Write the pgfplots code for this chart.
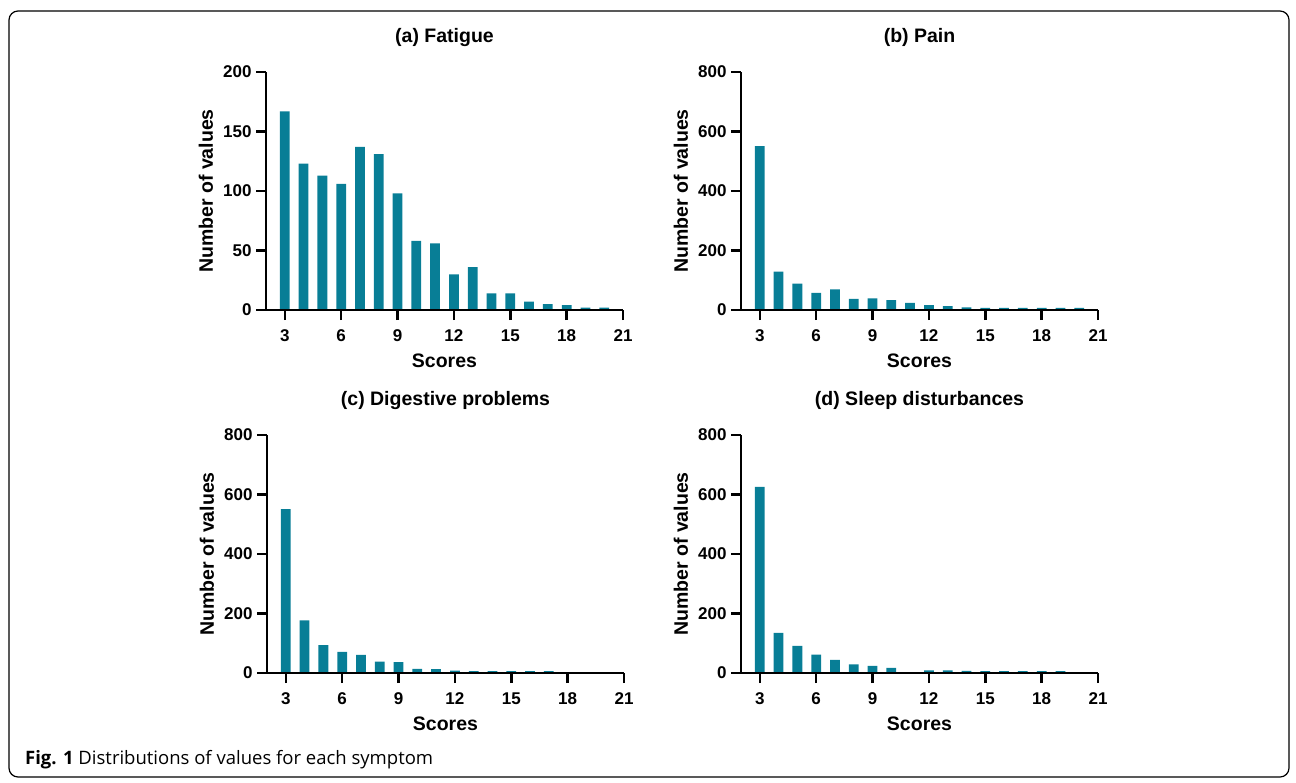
\documentclass[border=0pt]{standalone}
\usepackage{fontspec}
\setmainfont{Liberation Sans}
\newfontfamily\capfont{Open Sans}
\usepackage{pgfplots}
\pgfplotsset{compat=1.18}
\definecolor{barteal}{RGB}{8,126,150}
\pgfplotsset{
  panel/.style={
    scale only axis,
    width=357pt, height=238pt,
    anchor=south west,
    xmin=2, xmax=21, ymin=0,
    xtick={3,6,...,21},
    axis lines=left,
    axis line style={-, line width=2.5pt, black},
    every tick/.style={black, line width=2.5pt},
    major tick length=10pt,
    tick align=outside,
    minor tick num=0,
    axis on top=true,
    /pgf/number format/assume math mode=true,
    tick label style={font=\fontsize{17}{20}\selectfont\bfseries},
    xticklabel style={anchor=north, yshift=-6pt},
    yticklabel style={anchor=east, xshift=-1pt},
    xlabel={Scores},
    ylabel={Number of values},
    every axis x label/.style={at={(axis description cs:0.5,0)}, yshift=-51pt, anchor=center, font=\fontsize{19.5}{22}\selectfont\bfseries},
    every axis y label/.style={at={(axis description cs:0,0.5)}, xshift=-60pt, rotate=90, anchor=center, font=\fontsize{19.5}{22}\selectfont\bfseries},
    title style={font=\fontsize{19.5}{22}\selectfont\bfseries, at={(axis description cs:0.5,1)}, yshift=29pt, anchor=center},
    ybar, bar width=0.52,
    scaled y ticks=false,
  },
  bars/.style={fill=barteal, draw=none},
}
\begin{document}
\begin{tikzpicture}
\path[use as bounding box] (0,0) rectangle (1296pt,-782pt);
\draw[line width=1.2pt, rounded corners=9pt] (9pt,-11pt) rectangle (1289pt,-777pt);

\begin{axis}[panel, at={(266pt,-310pt)}, ymax=200, ytick={0,50,...,200}, title={(a) Fatigue}]
\addplot[bars] coordinates {(3,167) (4,123) (5,113) (6,106) (7,137) (8,131) (9,98) (10,58) (11,56) (12,30) (13,36) (14,14) (15,14) (16,7) (17,5) (18,4) (19,2) (20,2)};
\end{axis}

\begin{axis}[panel, at={(741pt,-310pt)}, ymax=800, ytick={0,200,...,800}, title={(b) Pain}]
\addplot[bars] coordinates {(3,551) (4,129) (5,89) (6,58) (7,69) (8,37) (9,39) (10,33) (11,24) (12,16) (13,13) (14,9) (15,7) (16,7) (17,7) (18,7) (19,7) (20,7)};
\end{axis}

\begin{axis}[panel, at={(267pt,-673pt)}, ymax=800, ytick={0,200,...,800}, title={(c) Digestive problems}]
\addplot[bars] coordinates {(3,551) (4,177) (5,94) (6,71) (7,61) (8,38) (9,37) (10,14) (11,13) (12,8) (13,6) (14,6) (15,6) (16,6) (17,6)};
\end{axis}

\begin{axis}[panel, at={(741pt,-673pt)}, ymax=800, ytick={0,200,...,800}, title={(d) Sleep disturbances}]
\addplot[bars] coordinates {(3,626) (4,135) (5,91) (6,62) (7,44) (8,29) (9,24) (10,17) (12,9) (13,9) (14,7) (15,6) (16,6) (17,6) (18,6) (19,6)};
\end{axis}

\node[anchor=base west, inner sep=0pt, font=\capfont\fontsize{18.5}{22}\selectfont] at (25pt,-764pt) {\textbf{Fig. 1} Distributions of values for each symptom};
\end{tikzpicture}
\end{document}
